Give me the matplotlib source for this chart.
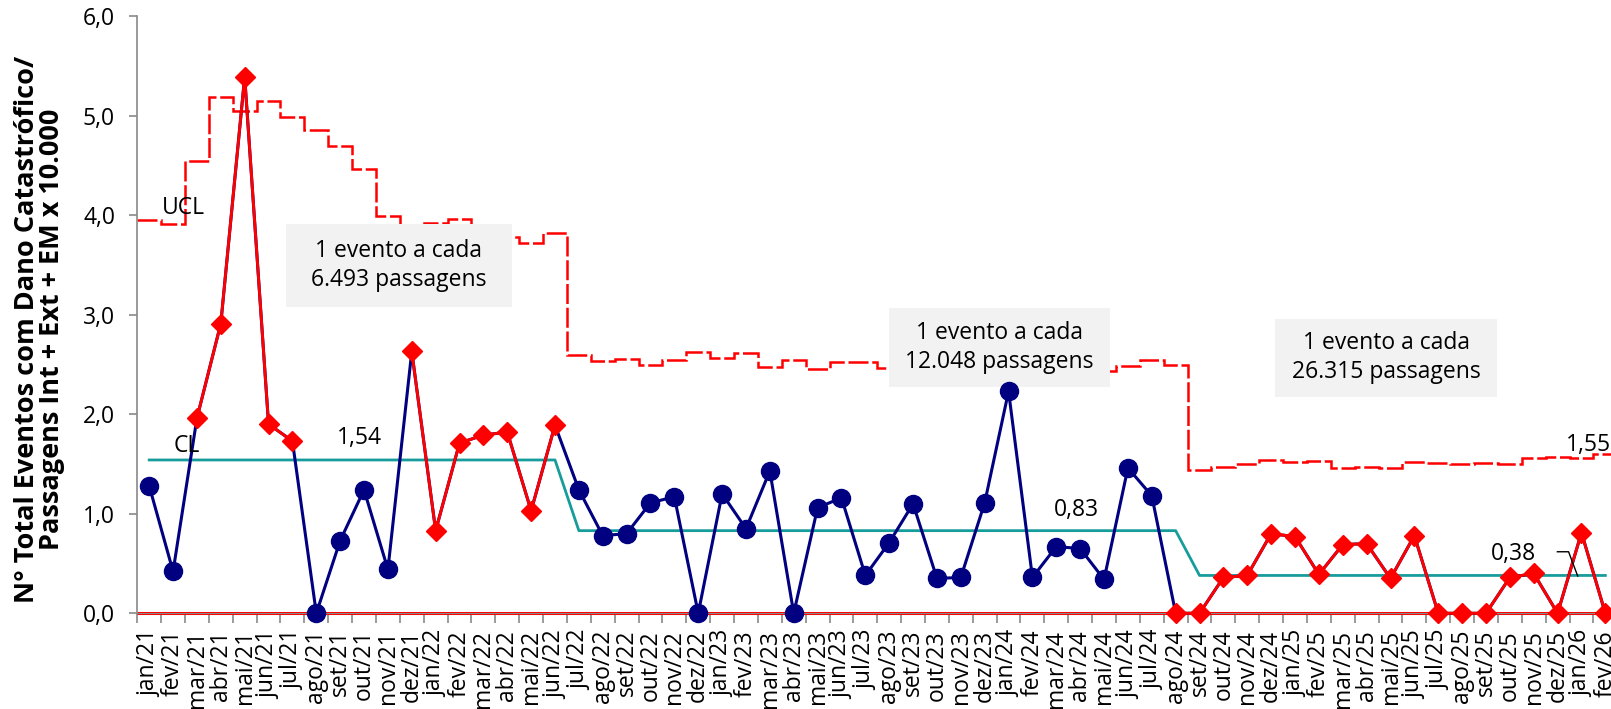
import matplotlib
matplotlib.use('Agg')
import matplotlib.pyplot as plt
from matplotlib.patches import Rectangle
import numpy as np

plt.rcParams['font.family'] = ['Open Sans', 'DejaVu Sans']

# Rótulos dos meses (jan/21 .. fev/26)
meses = ['jan', 'fev', 'mar', 'abr', 'mai', 'jun', 'jul', 'ago', 'set', 'out', 'nov', 'dez']
rotulos = [f'{m}/{a}' for a in range(21, 26) for m in meses] + ['jan/26', 'fev/26']

# Taxa mensal (eventos / passagens x 10.000)
taxa = [1.28, 0.42, 1.96, 2.91, 5.39, 1.90, 1.73, 0.00, 0.73, 1.24, 0.44, 2.63,
        0.83, 1.71, 1.79, 1.82, 1.03, 1.89, 1.24, 0.78, 0.80, 1.11, 1.17, 0.00,
        1.20, 0.85, 1.43, 0.00, 1.06, 1.16, 0.38, 0.71, 1.10, 0.35, 0.36, 1.11,
        2.23, 0.36, 0.67, 0.65, 0.34, 1.46, 1.18, 0.00, 0.00, 0.36, 0.38, 0.80,
        0.77, 0.39, 0.69, 0.70, 0.35, 0.78, 0.00, 0.00, 0.00, 0.36, 0.40, 0.00,
        0.81, 0.00]

# Pontos sinalizados (regras de controle) -> vermelho
sinal = [0, 0, 1, 1, 1, 1, 1, 0, 0, 0, 0, 1,
         1, 1, 1, 1, 1, 1, 0, 0, 0, 0, 0, 0,
         0, 0, 0, 0, 0, 0, 0, 0, 0, 0, 0, 0,
         0, 0, 0, 0, 0, 0, 0, 1, 1, 1, 1, 1,
         1, 1, 1, 1, 1, 1, 1, 1, 1, 1, 1, 1,
         1, 1]

# Limite superior de controle (varia mês a mês)
ucl = [3.95, 3.91, 4.54, 5.19, 5.05, 5.15, 4.99, 4.85, 4.69, 4.46, 3.99, 3.86,
       3.92, 3.96, 3.86, 3.78, 3.72, 3.82, 2.59, 2.53, 2.55, 2.49, 2.54, 2.62,
       2.56, 2.61, 2.47, 2.54, 2.45, 2.52, 2.52, 2.46, 2.47, 2.50, 2.49, 2.46,
       2.42, 2.48, 2.46, 2.47, 2.43, 2.48, 2.54, 2.49, 1.44, 1.47, 1.50, 1.54,
       1.52, 1.53, 1.46, 1.47, 1.455, 1.52, 1.51, 1.50, 1.51, 1.50, 1.556, 1.572,
       1.556, 1.60]

# Linha central por fase
cl = [1.54] * 18 + [0.83] * 26 + [0.38] * 18
lcl = [0.0] * 62

vermelho = '#ff0000'
azul = '#000080'
verde = '#179c9c'
cinza = '#898989'

x = np.arange(len(rotulos))
taxa = np.array(taxa)
sinal = np.array(sinal, dtype=bool)
bordas = np.arange(len(rotulos) + 1) - 0.5

fig = plt.figure(figsize=(16.11, 7.09), dpi=100)
ax = fig.add_axes([0.0852, 0.1350, 0.9187, 0.8425])

# Limites de controle
ax.stairs(ucl, bordas, baseline=None, color=vermelho, lw=1.8,
          linestyle=(0, (8, 1.5)), zorder=2)
ax.stairs(lcl, bordas, baseline=None, color=vermelho, lw=2.2,
          zorder=2, clip_on=False)
ax.plot(x, cl, color=verde, lw=2.0, zorder=4)

# Caixas de texto
caixas = [(5.72, 3.075, 15.19, 3.915, '1 evento a cada\n6.493 passagens'),
          (31.0, 2.275, 40.23, 3.065, '1 evento a cada\n12.048 passagens'),
          (47.17, 2.175, 56.47, 2.96, '1 evento a cada\n26.315 passagens')]
for x0, y0, x1, y1, txt in caixas:
    ax.add_patch(Rectangle((x0, y0), x1 - x0, y1 - y0, facecolor='#f2f2f2',
                           edgecolor='none', zorder=3))
    ax.text((x0 + x1) / 2, (y0 + y1) / 2, txt, ha='center', va='center',
            fontsize=16.5, linespacing=1.25, zorder=3.5)

# Série de dados
verm_y = np.where(sinal, taxa, np.nan)
ax.plot(x, taxa, color=azul, lw=2.2, zorder=5, clip_on=False)
ax.plot(x[~sinal], taxa[~sinal], 'o', color=azul, ms=13, zorder=6, clip_on=False)
ax.plot(x, verm_y, color=vermelho, lw=2.1, marker='D', ms=10,
        zorder=6, clip_on=False)

# Rótulos
rot = dict(ha='center', va='center', fontsize=16.5, zorder=7)
ax.text(1.445, 4.074, 'UCL', **rot)
ax.text(1.57, 1.685, 'CL', **rot)
ax.text(8.82, 1.765, '1,54', **rot)
ax.text(38.84, 1.037, '0,83', **rot)
ax.text(57.17, 0.60, '0,38', **rot)
ax.text(60.31, 1.695, '1,55', clip_on=False, **rot)
ax.plot([58.99, 59.46, 59.84], [0.618, 0.618, 0.375], color='black', lw=1.0,
        zorder=7)

ax.set_xlim(-0.5, len(rotulos) - 0.5)
ax.set_ylim(0, 6)

ax.set_xticks(bordas)
ax.set_xticklabels([])
ax.set_xticks(x, minor=True)
ax.set_xticklabels(rotulos, minor=True, rotation=90, fontsize=16.5)
ax.tick_params(axis='x', which='major', length=7, width=1.2, color=cinza, direction='out')
ax.tick_params(axis='x', which='minor', length=0, pad=12)

ax.set_yticks(np.arange(0, 7))
ax.set_yticklabels([f'{v:.1f}'.replace('.', ',') for v in range(0, 7)], fontsize=16.5)
ax.tick_params(axis='y', length=6, width=1.2, color=cinza, pad=10)

for lado in ['top', 'right']:
    ax.spines[lado].set_visible(False)
ax.spines['left'].set_color(cinza)
ax.spines['left'].set_linewidth(1.2)
ax.spines['bottom'].set_color(cinza)

fig.text(0.0245, 0.535, 'N° Total Eventos com Dano Catastrófico/\nPassagens Int + Ext + EM x 10.000',
         rotation=90, ha='center', va='center', fontsize=19.5, fontweight='bold',
         multialignment='center', linespacing=0.98)

fig.savefig('out.png', dpi=100)
